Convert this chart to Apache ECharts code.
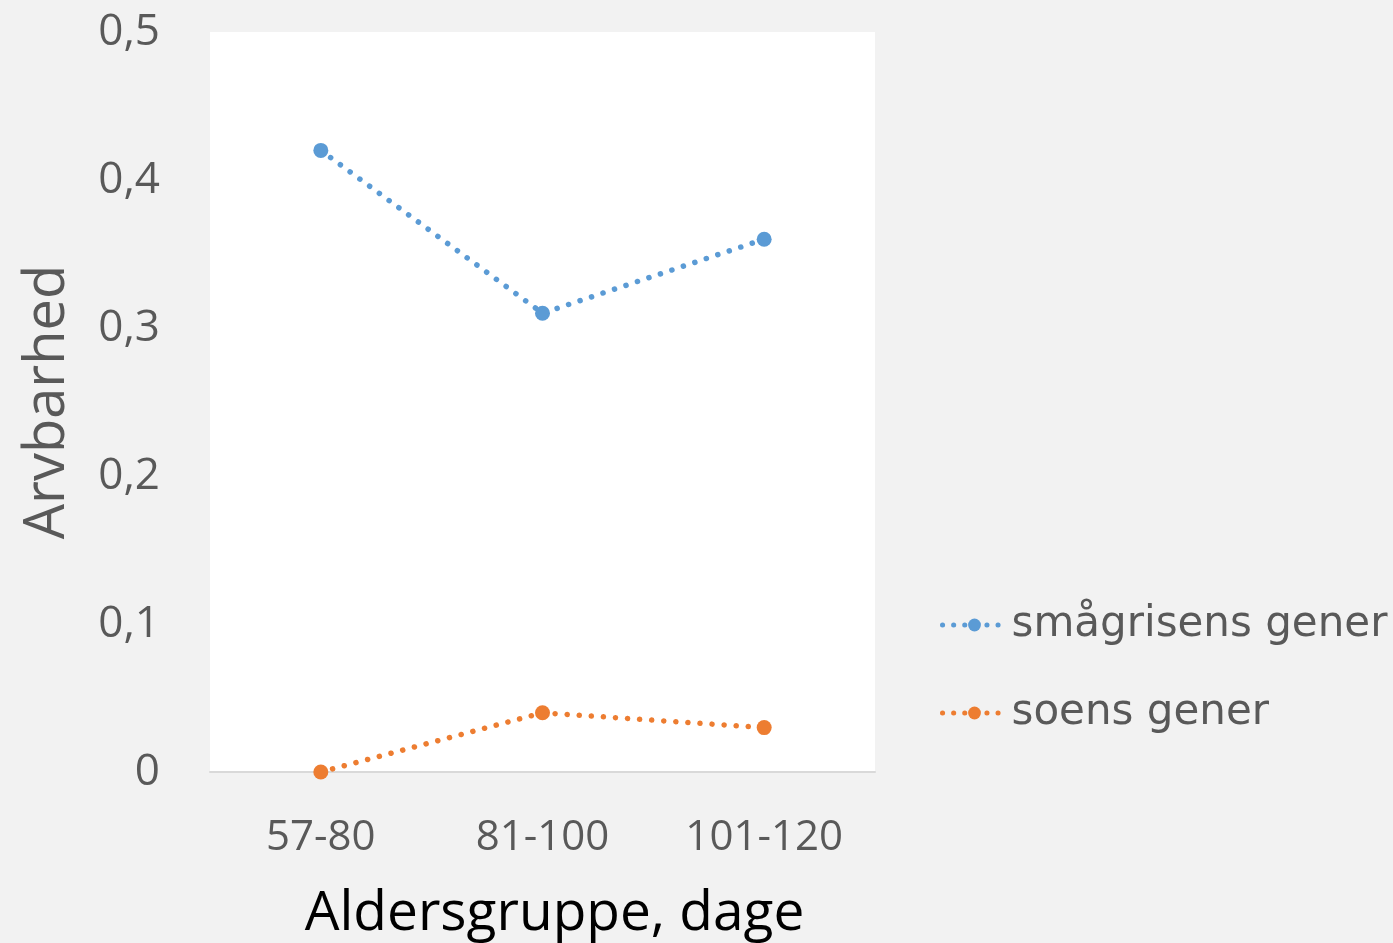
<!DOCTYPE html>
<html>
<head>
<meta charset="utf-8">
<script src="https://cdn.jsdelivr.net/npm/echarts@6/dist/echarts.min.js"></script>
<style>
  html, body { margin: 0; padding: 0; background: #f2f2f2; }
  #chart { width: 1393px; height: 943px; }
</style>
</head>
<body>
<div id="chart"></div>
<script>
// aldersgrupper og arvbarhed
var categories = ['57-80', '81-100', '101-120'];
var smaagrise = [0.42, 0.31, 0.36];
var soen = [0, 0.04, 0.03];
var seriesNames = ['smågrisens gener', 'soens gener'];

var chart = echarts.init(document.getElementById('chart'));

function lineSerie(name, data, color) {
  return {
    name: name,
    type: 'line',
    data: data,
    symbol: 'circle',
    symbolSize: 15,
    itemStyle: { color: color },
    lineStyle: { color: color, width: 5.5, type: [0.1, 12], cap: 'round' }
  };
}

chart.setOption({
  backgroundColor: '#f2f2f2',
  animation: false,
  textStyle: { fontFamily: 'Open Sans' },
  grid: {
    left: 210, right: 518, top: 32, bottom: 171,
    containLabel: false,
    outerBoundsMode: 'none',
    show: true, backgroundColor: '#ffffff', borderWidth: 0
  },
  legend: {
    orient: 'vertical',
    left: 935,
    top: 599,
    itemWidth: 64,
    itemHeight: 16,
    itemGap: 46,
    lineStyle: { width: 5, type: [0.1, 11], cap: 'round' },
    textStyle: { fontSize: 42, color: '#595959', fontFamily: 'DejaVu Sans' },
    data: seriesNames
  },
  xAxis: {
    type: 'category',
    data: categories,
    boundaryGap: true,
    axisTick: { show: false },
    axisLine: { lineStyle: { color: '#d9d9d9', width: 2 } },
    axisLabel: { fontSize: 42, color: '#595959', margin: 45 },
    name: 'Aldersgruppe, dage',
    nameLocation: 'middle',
    nameGap: 115,
    nameTextStyle: { fontSize: 55, color: '#000000', padding: [0, 0, 0, 24] }
  },
  yAxis: {
    type: 'value',
    min: 0, max: 0.5, interval: 0.1,
    splitLine: { show: false },
    axisLine: { show: false },
    axisLabel: {
      fontSize: 44, color: '#595959', margin: 50,
      formatter: function (v) { return String(Math.round(v * 10) / 10).replace('.', ','); }
    },
    name: 'Arvbarhed',
    nameLocation: 'middle',
    nameGap: 134,
    nameTextStyle: { fontSize: 56, color: '#595959' }
  },
  series: [
    lineSerie(seriesNames[0], smaagrise, '#5b9bd5'),
    lineSerie(seriesNames[1], soen, '#ed7d31')
  ]
});
</script>
</body>
</html>
